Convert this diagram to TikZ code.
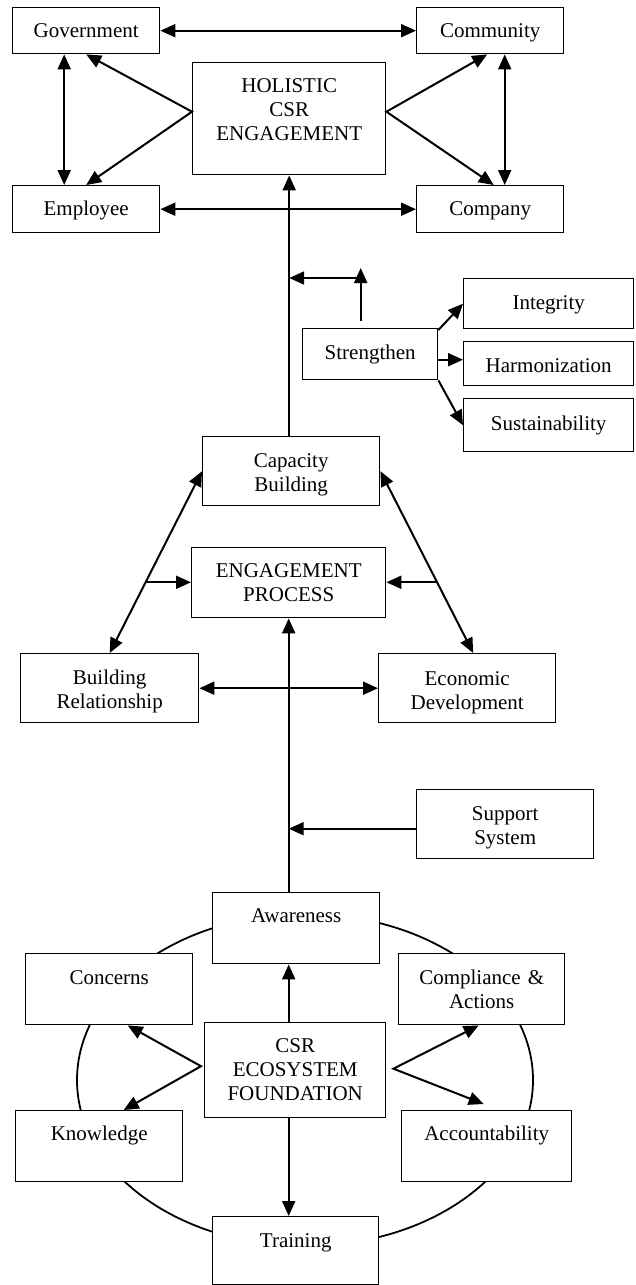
\documentclass[tikz,border=0pt]{standalone}
\usepackage{fontspec}
\setmainfont{Liberation Serif}
\usetikzlibrary{arrows.meta,calc}
\begin{document}
\begin{tikzpicture}[x=1pt,y=-1pt,
  bx/.style={draw,fill=white,line width=1.4pt,inner sep=0pt,align=center,anchor=north west,font=\fontsize{21}{24}\selectfont},
  arr/.style={line width=2pt,-{Triangle[length=15pt,width=13pt]}},
  biarr/.style={line width=2pt,{Triangle[length=15pt,width=13pt]}-{Triangle[length=15pt,width=13pt]}},
  ring/.style={line width=1.8pt}]
\useasboundingbox (0,0) rectangle (636,1285);
% ring behind the foundation boxes
\draw[ring] (305,1080) ellipse [x radius=228pt, y radius=166pt];
% top block
\node[bx,text width=147pt,text height=30pt,text depth=16pt] (gov) at (12,7) {Government};
\node[bx,text width=147pt,text height=30pt,text depth=16pt] (com) at (416,7) {Community};
\node[bx,text width=193pt,text height=30pt,text depth=82pt] (hol) at (192,62) {HOLISTIC\\CSR\\ENGAGEMENT};
\node[bx,text width=147pt,text height=30pt,text depth=17pt] (emp) at (12,185) {Employee};
\node[bx,text width=147pt,text height=30pt,text depth=17pt] (cmp) at (416,185) {Company};
% strengthen block
\node[bx,text width=135pt,text height=31pt,text depth=20pt] (str) at (302,328) {Strengthen};
\node[bx,text width=170pt,text height=31pt,text depth=19pt] (int) at (463,278) {Integrity};
\node[bx,text width=170pt,text height=31pt,text depth=13pt] (har) at (463,341) {Harmonization};
\node[bx,text width=170pt,text height=32pt,text depth=21pt] (sus) at (463,398) {Sustainability};
% middle block
\node[bx,text width=177pt,text height=31pt,text depth=38pt] (cap) at (202,436) {Capacity\\Building};
\node[bx,text width=194pt,text height=30pt,text depth=40pt] (eng) at (191,547) {ENGAGEMENT\\PROCESS};
\node[bx,text width=178pt,text height=31pt,text depth=38pt] (brel) at (20,653) {Building\\Relationship};
\node[bx,text width=177pt,text height=32pt,text depth=37pt] (eco) at (378,653) {Economic\\Development};
\node[bx,text width=177pt,text height=31pt,text depth=38pt] (sup) at (416,789) {Support\\System};
% foundation block
\node[bx,text width=167pt,text height=30pt,text depth=41pt] (awa) at (212,892) {Awareness};
\node[bx,text width=167pt,text height=31pt,text depth=40pt] (conc) at (25,953) {Concerns};
\node[bx,text width=166pt,text height=31pt,text depth=40pt] (cmpl) at (398,953) {Compliance \&\\Actions};
\node[bx,text width=181pt,text height=30pt,text depth=65pt] (csr) at (204,1022) {CSR\\ECOSYSTEM\\FOUNDATION};
\node[bx,text width=167pt,text height=30pt,text depth=41pt] (kno) at (15,1110) {Knowledge};
\node[bx,text width=170pt,text height=30pt,text depth=41pt] (acc) at (401,1110) {Accountability};
\node[bx,text width=166pt,text height=31pt,text depth=37pt] (tra) at (212,1216) {Training};
% top connectors
\draw[biarr] (gov.east) -- (com.west);
\draw[biarr] (emp.east) -- (cmp.west);
\draw[biarr] ([xshift=-22pt]gov.south) -- ([xshift=-22pt]emp.north);
\draw[biarr] ([xshift=14.5pt]com.south) -- ([xshift=14.5pt]cmp.north);
\coordinate (hl) at ($(hol.west)+(0,-7)$);
\coordinate (hr) at ($(hol.east)+(0,-7)$);
\draw[biarr] (gov.south) -- (hl) -- (emp.north);
\draw[biarr] ([xshift=-3pt]com.south) -- (hr) -- ([xshift=3.5pt]cmp.north);
\draw[arr] ([xshift=-2pt]cap.north) -- ([xshift=-2pt]cap.north |- hol.south);
% strengthen connectors
\coordinate (sa) at ($(str.north)+(-9.5,-7)$);
\coordinate (sb) at ($(str.north)+(-9.5,-60)$);
\coordinate (sj) at ($(str.north)+(-9.5,-50)$);
\draw[arr] (sa) -- (sb);
\draw[arr] (sj) -- ([xshift=-2pt]sj -| cap.north);
\draw[arr] ($(str.north east)+(0,2)$) -- (int.west);
\draw[arr] ($(str.east)+(0,5.5)$) coordinate (sm) -- (sm -| har.west);
\draw[arr] (str.south east) -- (sus.west);
% middle connectors
\draw[biarr] (brel.north) -- (cap.west);
\draw[biarr] ([xshift=6pt]eco.north) -- (cap.east);
\draw[arr] ($(brel.north)!0.389!(cap.west)$) coordinate (el) -- (el -| eng.west);
\draw[arr] ($([xshift=6pt]eco.north)!0.389!(cap.east)$) coordinate (er) -- (er -| eng.east);
\draw[biarr] (brel.east) -- (eco.west);
\draw[arr] (eng.south |- awa.north) -- (eng.south);
\draw[arr] ($(sup.west)+(0,4.5)$) coordinate (ss) -- (ss -| eng.south);
% foundation connectors
\draw[arr] (eng.south |- csr.north) -- (eng.south |- awa.south);
\draw[arr] (eng.south |- csr.south) -- (eng.south |- tra.north);
\coordinate (cl) at ($(csr.west)+(-3,-4)$);
\coordinate (cr) at ($(csr.east)+(7,-1.5)$);
\draw[biarr] ($(conc.south)+(18.5,0)$) -- (cl) -- ($(kno.north)+(24.5,0)$);
\draw[biarr] ($(cmpl.south)+(-3,0)$) -- (cr) -- ($(acc.north)+(-3,-6)$);
\end{tikzpicture}
\end{document}
